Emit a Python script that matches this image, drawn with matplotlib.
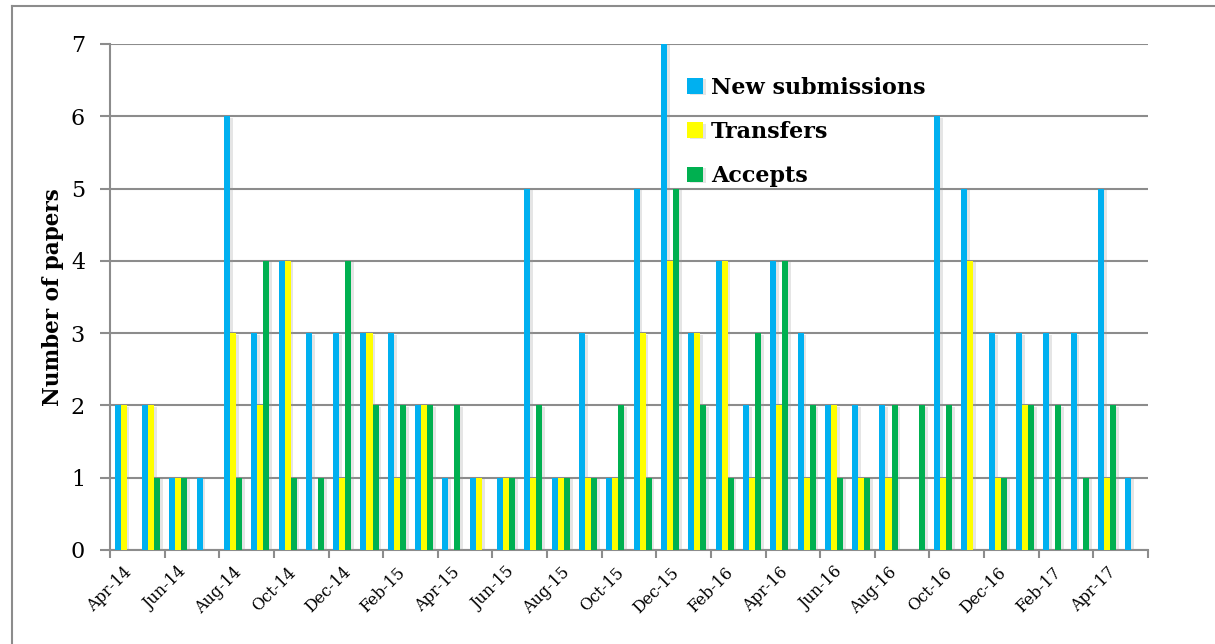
import numpy as np
import matplotlib
matplotlib.use("Agg")
from matplotlib import pyplot as plt
from matplotlib.lines import Line2D
import matplotlib.patheffects as pe

months = ['Apr-14', 'May-14', 'Jun-14', 'Jul-14', 'Aug-14', 'Sep-14', 'Oct-14', 'Nov-14',
          'Dec-14', 'Jan-15', 'Feb-15', 'Mar-15', 'Apr-15', 'May-15', 'Jun-15', 'Jul-15',
          'Aug-15', 'Sep-15', 'Oct-15', 'Nov-15', 'Dec-15', 'Jan-16', 'Feb-16', 'Mar-16',
          'Apr-16', 'May-16', 'Jun-16', 'Jul-16', 'Aug-16', 'Sep-16', 'Oct-16', 'Nov-16',
          'Dec-16', 'Jan-17', 'Feb-17', 'Mar-17', 'Apr-17', 'May-17']
new_subs = [2, 2, 1, 1, 6, 3, 4, 3, 3, 3, 3, 2, 1, 1, 1, 5, 1, 3, 1, 5, 7, 3, 4, 2, 4, 3,
            2, 2, 2, 0, 6, 5, 3, 3, 3, 3, 5, 1]
transfers = [2, 2, 1, 0, 3, 2, 4, 0, 1, 3, 1, 2, 0, 1, 1, 1, 1, 1, 1, 3, 4, 3, 4, 1, 2, 1,
             2, 1, 1, 0, 1, 4, 1, 2, 0, 0, 1, 0]
accepts = [0, 1, 1, 0, 1, 4, 1, 1, 4, 2, 2, 2, 2, 0, 1, 2, 1, 1, 2, 1, 5, 2, 1, 3, 4, 2,
           1, 1, 2, 2, 2, 0, 1, 2, 2, 1, 2, 0]

series = [('New submissions', new_subs, '#00B0F0'),
          ('Transfers', transfers, '#FFFF00'),
          ('Accepts', accepts, '#00B050')]

serif = 'DejaVu Serif'
grey = '#8c8c8c'

fig = plt.figure(figsize=(12.15, 6.44), dpi=100)
ax = fig.add_axes([110/1215, 1-550/644, (1148-110)/1215, (550-44)/644])

x = np.arange(len(months))
w = 0.22
shadow = [pe.SimplePatchShadow(offset=(2, -1), shadow_rgbFace='#999999', alpha=0.25), pe.Normal()]
for i, (name, vals, col) in enumerate(series):
    bars = ax.bar(x + (i - 1)*w, vals, w, color=col, label=name, zorder=3)
    for b in bars:
        b.set_path_effects(shadow)

ax.set_xlim(-0.5, len(months) - 0.5)
ax.set_ylim(0, 7)
ax.set_yticks(range(8))
ax.yaxis.grid(True, color=grey, lw=1.5, zorder=0)
ax.set_axisbelow(True)

for s in ['top', 'right']:
    ax.spines[s].set_visible(False)
for s in ['left', 'bottom']:
    ax.spines[s].set_color(grey)
    ax.spines[s].set_linewidth(1.5)

ax.set_xticks(np.arange(-0.5, len(months), 2))
ax.set_xticklabels([])
ax.set_xticks(x[::2], minor=True)
ax.set_xticklabels(months[::2], minor=True, rotation=45, ha='right',
                   rotation_mode='anchor', family=serif, fontsize=11.5)
ax.tick_params(axis='x', which='major', length=6, width=1.5, color=grey)
ax.tick_params(axis='x', which='minor', length=0, pad=10)
ax.tick_params(axis='y', length=7, width=1.5, color=grey, pad=11)
for t in ax.get_yticklabels():
    t.set_family(serif)
    t.set_fontsize(16)

ax.set_ylabel('Number of papers', family=serif, fontsize=15.5, fontweight='bold', labelpad=5)

leg = ax.legend(loc='upper left', bbox_to_anchor=(0.537, 0.975), frameon=False,
                prop={'family': serif, 'size': 16, 'weight': 'bold'},
                handlelength=0.7, handleheight=0.7, handletextpad=0.35, labelspacing=1.0)

# outer chart border
fig.add_artist(Line2D([12/1215, 12/1215], [0, 1-6/644], color=grey, lw=1.5))
fig.add_artist(Line2D([12/1215, 1], [1-6/644, 1-6/644], color=grey, lw=1.5))

fig.savefig('out.png', dpi=100)
